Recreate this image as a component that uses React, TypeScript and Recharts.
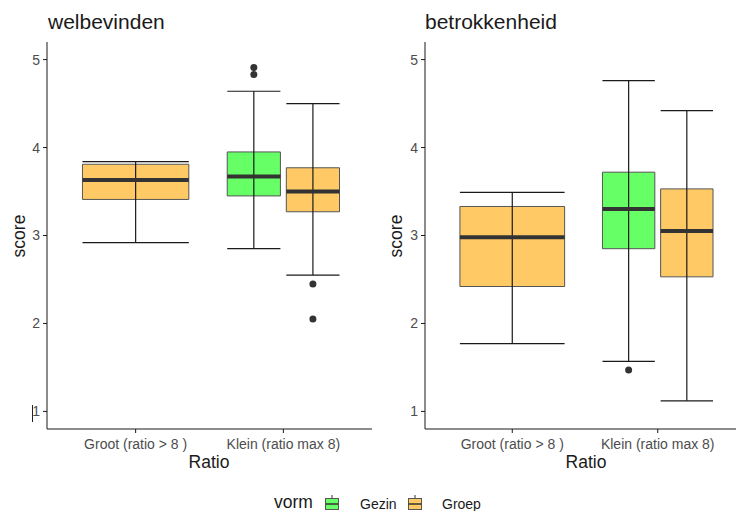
import { ComposedChart, XAxis, YAxis, Scatter, ReferenceArea, ReferenceLine } from "recharts";

const CATEGORIES = ["Groot (ratio > 8 )", "Klein (ratio max 8)"];
const GROUPS = ["Gezin", "Groep"];
const Y_TICKS = [1, 2, 3, 4, 5];

// box stats: [lower whisker, q1, median, q3, upper whisker]
const WEL_GROOT_GROEP = [2.92, 3.41, 3.63, 3.81, 3.84];
const WEL_KLEIN_GEZIN = [2.85, 3.45, 3.67, 3.95, 4.64];
const WEL_KLEIN_GROEP = [2.55, 3.27, 3.5, 3.77, 4.5];
const WEL_OUT_GEZIN = [4.91, 4.83];
const WEL_OUT_GROEP = [2.45, 2.05];

const BET_GROOT_GROEP = [1.77, 2.42, 2.98, 3.33, 3.49];
const BET_KLEIN_GEZIN = [1.57, 2.85, 3.3, 3.72, 4.76];
const BET_KLEIN_GROEP = [1.12, 2.53, 3.05, 3.53, 4.42];
const BET_OUT_GEZIN = [1.47];

const COLORS: Record<string, string> = { Gezin: "#66FF66", Groep: "#FFC966" };
const FONT = '"Liberation Sans", Arial, sans-serif';

type Box = { cat: number; group: string; stats: number[]; outliers: number[]; dodged: boolean };

const WEL_BOXES: Box[] = [
  { cat: 1, group: "Groep", stats: WEL_GROOT_GROEP, outliers: [], dodged: false },
  { cat: 2, group: "Gezin", stats: WEL_KLEIN_GEZIN, outliers: WEL_OUT_GEZIN, dodged: true },
  { cat: 2, group: "Groep", stats: WEL_KLEIN_GROEP, outliers: WEL_OUT_GROEP, dodged: true },
];

const BET_BOXES: Box[] = [
  { cat: 1, group: "Groep", stats: BET_GROOT_GROEP, outliers: [], dodged: false },
  { cat: 2, group: "Gezin", stats: BET_KLEIN_GEZIN, outliers: BET_OUT_GEZIN, dodged: true },
  { cat: 2, group: "Groep", stats: BET_KLEIN_GROEP, outliers: [], dodged: true },
];

const center = (b: Box) => b.cat + (b.dodged ? (b.group === "Gezin" ? -0.2 : 0.2) : 0);
const halfWidth = (b: Box) => (b.dodged ? 0.18 : 0.36);

function Panel({ boxes, left, width, axisWidth }: { boxes: Box[]; left: number; width: number; axisWidth: number }) {
  const outliers = boxes.flatMap((b) => b.outliers.map((v) => ({ x: center(b), y: v })));
  const tick = { fill: "#4D4D4D", fontSize: 14 };

  return (
    <div style={{ position: "absolute", left, top: 0 }}>
      <ComposedChart width={width} height={480} margin={{ top: 42, right: 0, bottom: 0, left: 0 }}>
        <XAxis
          type="number"
          dataKey="x"
          domain={[0.4, 2.6]}
          ticks={[1, 2]}
          interval={0}
          tickFormatter={(v) => CATEGORIES[v - 1]}
          height={51}
          tickSize={4}
          tickMargin={6}
          tick={tick}
          stroke="#1a1a1a"
          allowDataOverflow
        />
        <YAxis
          type="number"
          dataKey="y"
          domain={[0.8, 5.2]}
          ticks={Y_TICKS}
          interval={0}
          width={axisWidth}
          tickSize={4}
          tickMargin={3}
          tick={tick}
          stroke="#1a1a1a"
          allowDataOverflow
        />
        {boxes.map((b, i) => (
          <ReferenceArea
            key={`box-${i}`}
            x1={center(b) - halfWidth(b)}
            x2={center(b) + halfWidth(b)}
            y1={b.stats[1]}
            y2={b.stats[3]}
            fill={COLORS[b.group]}
            fillOpacity={1}
            stroke="#555"
            strokeWidth={1}
          />
        ))}
        {boxes.map((b, i) => (
          <ReferenceLine
            key={`whisk-${i}`}
            segment={[{ x: center(b), y: b.stats[0] }, { x: center(b), y: b.stats[4] }]}
            stroke="#1a1a1a"
            strokeWidth={1.2}
          />
        ))}
        {boxes.flatMap((b, i) =>
          [0, 4].map((k) => (
            <ReferenceLine
              key={`cap-${i}-${k}`}
              segment={[
                { x: center(b) - halfWidth(b), y: b.stats[k] },
                { x: center(b) + halfWidth(b), y: b.stats[k] },
              ]}
              stroke="#1a1a1a"
              strokeWidth={1.2}
            />
          ))
        )}
        {boxes.map((b, i) => (
          <ReferenceLine
            key={`med-${i}`}
            segment={[
              { x: center(b) - halfWidth(b), y: b.stats[2] },
              { x: center(b) + halfWidth(b), y: b.stats[2] },
            ]}
            stroke="#333"
            strokeWidth={4}
          />
        ))}
        <Scatter
          data={outliers}
          isAnimationActive={false}
          shape={(p: any) => <circle cx={p.cx} cy={p.cy} r={3.5} fill="#333" />}
        />
      </ComposedChart>
    </div>
  );
}

function LegendKey({ color }: { color: string }) {
  return (
    <svg width={14} height={15} style={{ display: "block" }}>
      <line x1={7} y1={0} x2={7} y2={3.5} stroke="#333" strokeWidth={1} />
      <rect x={0.5} y={3.5} width={13} height={11} fill={color} stroke="#555" strokeWidth={1} />
      <line x1={0.5} y1={9} x2={13.5} y2={9} stroke="#333" strokeWidth={1.5} />
    </svg>
  );
}

const text = (extra: React.CSSProperties): React.CSSProperties => ({
  position: "absolute",
  lineHeight: 1,
  whiteSpace: "nowrap",
  color: "#1a1a1a",
  ...extra,
});

export default function App() {
  return (
    <div
      style={{
        position: "absolute",
        left: 0,
        top: 0,
        width: 736,
        height: 511,
        overflow: "hidden",
        background: "#fff",
        fontFamily: FONT,
      }}
    >
      <Panel boxes={WEL_BOXES} left={0} width={372} axisWidth={47} />
      <Panel boxes={BET_BOXES} left={372} width={373} axisWidth={53} />

      {/* panel titles */}
      <div style={text({ left: 48, top: 11, fontSize: 21 })}>welbevinden</div>
      <div style={text({ left: 425, top: 11, fontSize: 21 })}>betrokkenheid</div>

      {/* y labels */}
      <div style={text({ left: 20, top: 236, fontSize: 17.5, transform: "translate(-50%, -50%) rotate(-90deg)" })}>score</div>
      <div style={text({ left: 397, top: 236, fontSize: 17.5, transform: "translate(-50%, -50%) rotate(-90deg)" })}>score</div>

      {/* x labels */}
      <div style={text({ left: 209, top: 454, fontSize: 17.5, transform: "translateX(-50%)" })}>Ratio</div>
      <div style={text({ left: 586, top: 454, fontSize: 17.5, transform: "translateX(-50%)" })}>Ratio</div>

      {/* stray mark near the lowest tick */}
      <div style={{ position: "absolute", left: 32, top: 405, width: 1, height: 17, background: "#222" }} />

      {/* legend */}
      <div style={text({ left: 274, top: 494, fontSize: 17.5 })}>vorm</div>
      <div style={{ position: "absolute", left: 325, top: 495 }}>
        <LegendKey color={COLORS[GROUPS[0]]} />
      </div>
      <div style={text({ left: 360, top: 497, fontSize: 14 })}>{GROUPS[0]}</div>
      <div style={{ position: "absolute", left: 408, top: 495 }}>
        <LegendKey color={COLORS[GROUPS[1]]} />
      </div>
      <div style={text({ left: 442, top: 497, fontSize: 14 })}>{GROUPS[1]}</div>
    </div>
  );
}
